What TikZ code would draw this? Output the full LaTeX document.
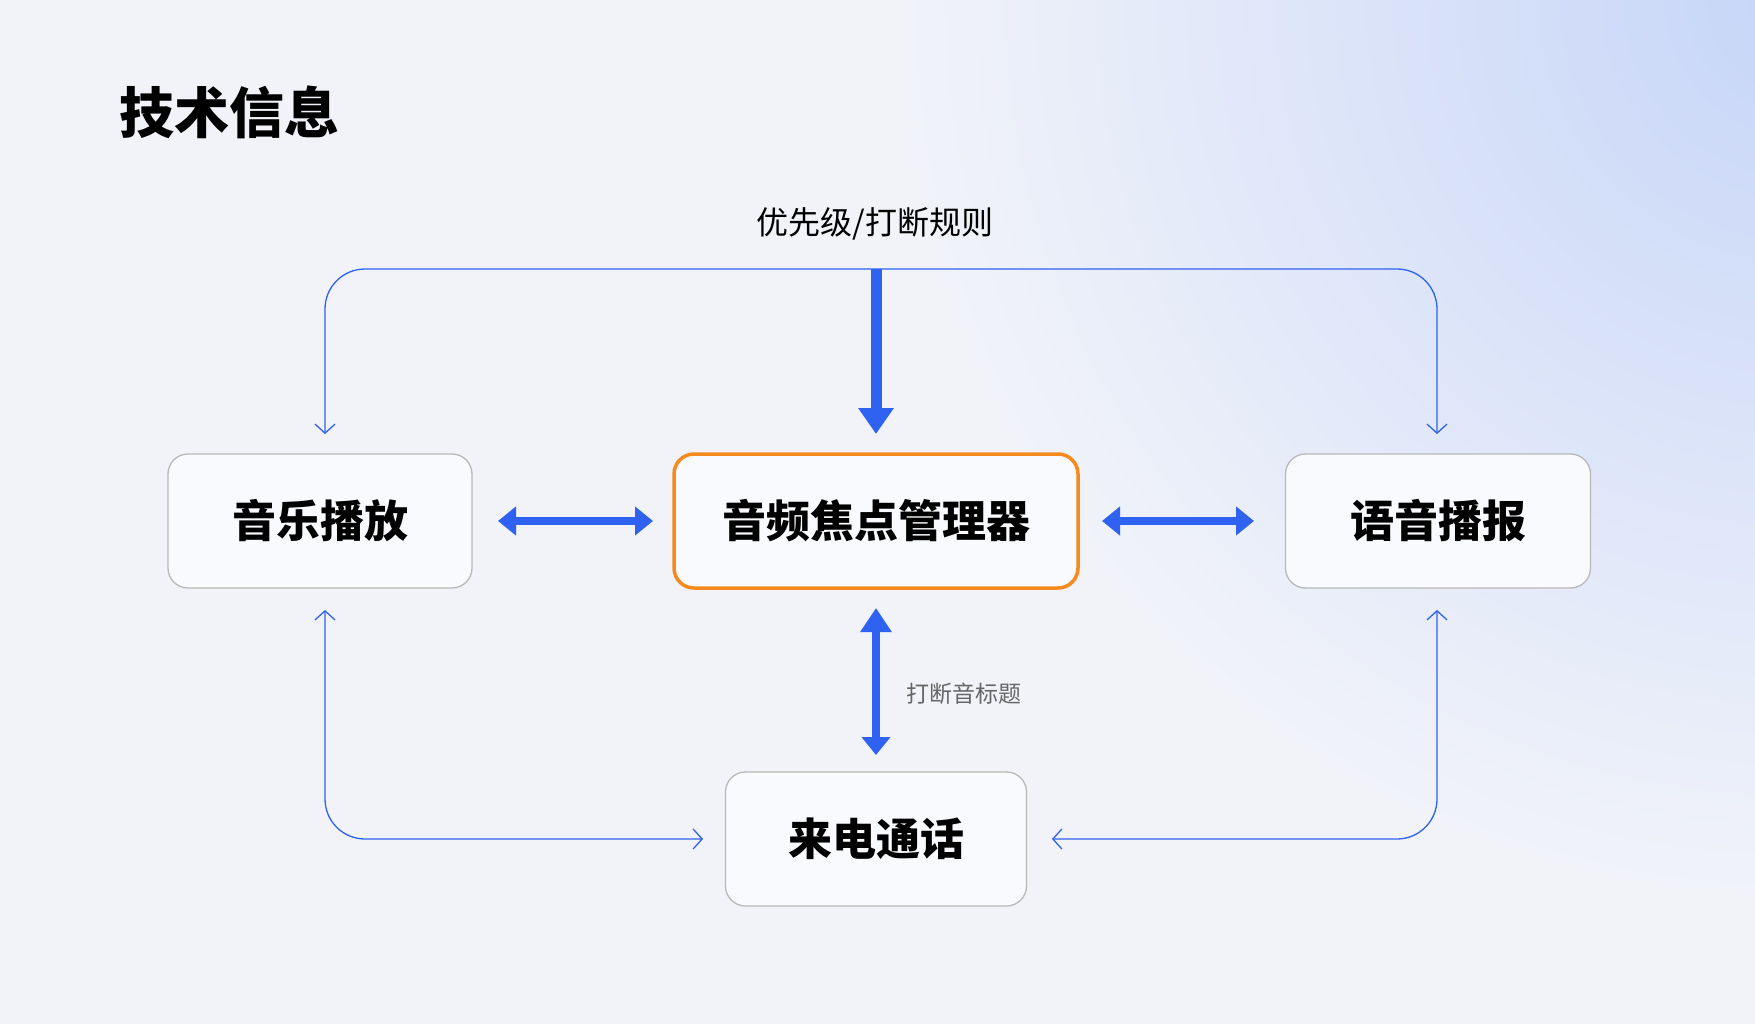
\documentclass[tikz,border=0pt]{standalone}
\usepackage{fontspec}
\newfontfamily\cjk{Noto Sans CJK SC}
\usetikzlibrary{arrows.meta}
\definecolor{bl}{HTML}{2F62F0}
\definecolor{og}{HTML}{F58A1F}
\definecolor{bg}{HTML}{F1F3F9}
\definecolor{bgb}{HTML}{C6D5F8}
\begin{document}
\begin{tikzpicture}[x=1pt,y=-1pt,
 box/.style={draw=gray!55,line width=1.3pt,rounded corners=20pt,fill=white!60!bg,minimum width=#1,minimum height=134pt,font=\cjk\bfseries\fontsize{44}{44}\selectfont},
 thin/.style={draw=bl,line width=1.3pt,-{Straight Barb[length=9pt,width=20pt]},rounded corners=40pt},
 thick/.style={draw=bl,line width=8pt,{Triangle[length=18pt,width=28pt]}-{Triangle[length=18pt,width=28pt]}}]
\useasboundingbox (0,0) rectangle (1755,1024);
\fill[bg] (0,0) rectangle (1755,1024);
\begin{scope}
\clip (0,0) rectangle (1755,1024);
\shade[inner color=bgb, outer color=bg] (1800,0) circle (900pt);
\end{scope}
\node[font=\cjk\bfseries\fontsize{55}{55}\selectfont,anchor=west] (title) at (116,112) {技术信息};
\node[box=304pt] (music) at (320,521) {音乐播放};
\node[box=404pt,draw=og,line width=3.5pt] (center) at (876,521) {音频焦点管理器};
\node[box=305pt] (voice) at (1438,521) {语音播报};
\node[box=301pt] (call) at (876,839) {来电通话};
\node[font=\cjk\fontsize{32}{32}\selectfont] (rule) at (875,224) {优先级/打断规则};
\node[font=\cjk\fontsize{23}{23}\selectfont,text=gray!80!black,anchor=west] (lbl) at (903,694) {打断音标题};
\coordinate (top) at (876,269);
\draw[thin] (top) -- (325,269) -- (325,434);
\draw[thin] (top) -- (1437,269) -- (1437,434);
\draw[draw=bl,line width=11pt,-{Triangle[length=26pt,width=34pt]}] (top) -- (876,434);
\draw[thick] (498,521) -- (653,521);
\draw[thick] (1102,521) -- (1254,521);
\draw[draw=bl,line width=8pt,{Triangle[length=24pt,width=30pt]}-{Triangle[length=18pt,width=28pt]}] (876,608) -- (876,755);
\draw[thin,{Straight Barb[length=9pt,width=20pt]}-{Straight Barb[length=9pt,width=20pt]}] (325,610) -- (325,839) -- (703,839);
\draw[thin,{Straight Barb[length=9pt,width=20pt]}-{Straight Barb[length=9pt,width=20pt]}] (1437,610) -- (1437,839) -- (1052,839);
\end{tikzpicture}
\end{document}
